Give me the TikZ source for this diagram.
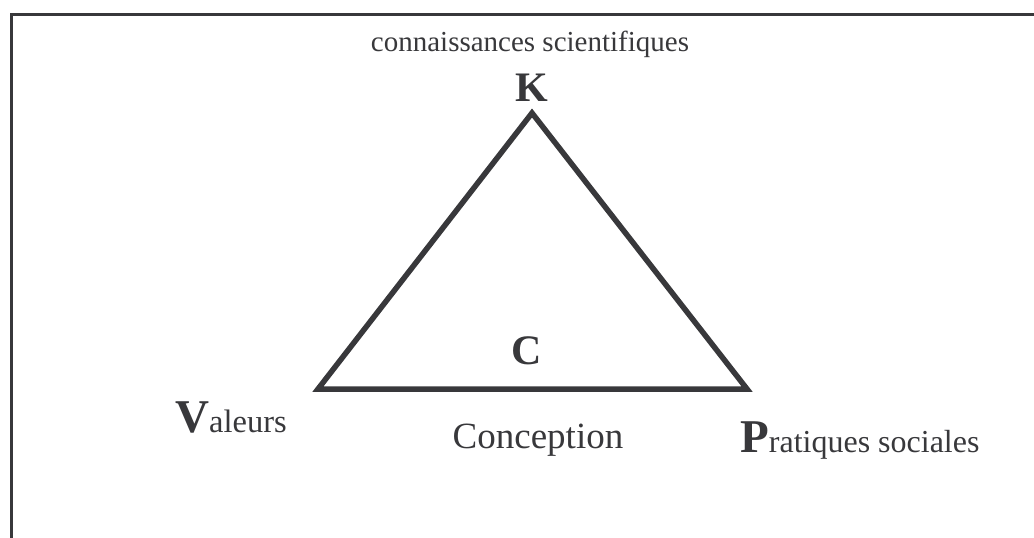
\documentclass[tikz,border=0pt]{standalone}
\usepackage{fontspec}
\setmainfont{Liberation Serif}
\definecolor{ink}{HTML}{38383B}
\tikzset{
  lbl/.style={anchor=base, inner sep=0pt, text=ink},
  edge/.style={draw=ink, line width=5.5pt, line join=miter},
  frame/.style={draw=ink, line width=3pt}
}
\begin{document}
\begin{tikzpicture}[x=1pt,y=-1pt]
\useasboundingbox (0,0) rectangle (1034,538);
\coordinate (fb) at (11.5,538);
\coordinate (fc) at (11.5,14);
\coordinate (fr) at (1034,14);
\draw[frame] (fb) -- (fc) -- (fr);
\coordinate (k) at (532,113);
\coordinate (v) at (318,389);
\coordinate (p) at (747,389);
\draw[edge] (k) -- (v) -- (p) -- cycle;
\node[lbl, font=\fontsize{29}{34}\selectfont] (cs) at (530,51) {connaissances scientifiques};
\node[lbl, font=\fontsize{42}{48}\selectfont\bfseries] (K) at (532,101) {K};
\node[lbl, font=\fontsize{42}{48}\selectfont\bfseries] (C) at (527,364) {C};
\node[lbl, anchor=base west] (V) at (175,432) {\fontsize{47}{52}\selectfont\bfseries V\fontsize{32.5}{36}\mdseries\selectfont aleurs};
\node[lbl, font=\fontsize{37}{42}\selectfont] (Co) at (538,448) {Conception};
\node[lbl, anchor=base west] (P) at (740,452) {\fontsize{47}{52}\selectfont\bfseries P\fontsize{32}{36}\mdseries\selectfont ratiques sociales};
\end{tikzpicture}
\end{document}
